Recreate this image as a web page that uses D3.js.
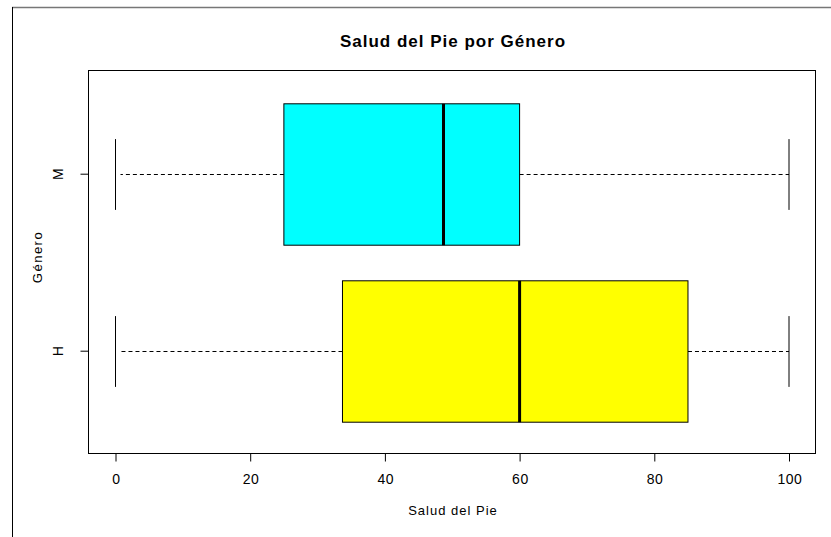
<!DOCTYPE html>
<html><head><meta charset="utf-8">
<script src="https://cdn.jsdelivr.net/npm/d3@7"></script>
<style>body{margin:0;background:#fff}svg{display:block}text{font-family:"Liberation Sans",Arial,sans-serif}</style>
</head><body>
<script>
const categories = ["H", "M"];
const colors = ["#ffff00", "#00ffff"];
const mins = [0, 0];
const q1s = [33.7, 25];
const medians = [60, 48.7];
const q3s = [85, 60];
const maxs = [100, 100];
const xTicks = [0, 20, 40, 60, 80, 100];

const W = 831, H = 537;
const svg = d3.select("body").append("svg").attr("width", W).attr("height", H);
const L = 88, R = 815, T = 70, B = 453;

// outer frame lines (top and left)
svg.append("line").attr("x1", 12).attr("x2", 831).attr("y1", 7.5).attr("y2", 7.5).attr("stroke", "#777").attr("stroke-width", 1.5);
svg.append("line").attr("x1", 12.5).attr("x2", 12.5).attr("y1", 7).attr("y2", 537).attr("stroke", "#000").attr("stroke-width", 1);

const x = d3.scaleLinear().domain([0, 100]).range([115.5, 789]);
const y = d3.scalePoint().domain(categories).range([350.7, 173.7]);
const halfBox = 70.7, halfStaple = 35.4;

const data = categories.map((c, i) => ({c, col: colors[i], min: mins[i], q1: q1s[i], med: medians[i], q3: q3s[i], max: maxs[i]}));

const g = svg.append("g");
data.forEach(d => {
  const cy = Math.round(y(d.c)) + 0.5;
  // whiskers dashed, drawn from box outward
  g.append("line").attr("x1", x(d.q1)).attr("x2", x(d.min) + 5).attr("y1", cy).attr("y2", cy)
    .attr("stroke", "#000").attr("stroke-dasharray", "4,3");
  g.append("line").attr("x1", x(d.q3)).attr("x2", x(d.max)).attr("y1", cy).attr("y2", cy)
    .attr("stroke", "#000").attr("stroke-dasharray", "4,3");
  // staples
  [d.min, d.max].forEach(v => {
    g.append("line").attr("x1", x(v)).attr("x2", x(v)).attr("y1", cy - halfStaple).attr("y2", cy + halfStaple)
      .attr("stroke", "#000");
  });
  // box
  g.append("rect").attr("x", x(d.q1)).attr("y", cy - halfBox).attr("width", x(d.q3) - x(d.q1)).attr("height", 2 * halfBox)
    .attr("fill", d.col).attr("stroke", "#000").attr("stroke-width", 1);
  // median
  g.append("line").attr("x1", x(d.med)).attr("x2", x(d.med)).attr("y1", cy - halfBox).attr("y2", cy + halfBox)
    .attr("stroke", "#000").attr("stroke-width", 3);
});

// plot frame
svg.append("rect").attr("x", L + 0.5).attr("y", T + 0.5).attr("width", R - L).attr("height", B - T)
  .attr("fill", "none").attr("stroke", "#000");

// x axis
const xa = svg.append("g").attr("transform", `translate(0,${B + 0.5})`)
  .call(d3.axisBottom(x).tickValues(xTicks).tickSize(8).tickPadding(0).tickFormat(d3.format("d")));
xa.select(".domain").remove();
xa.selectAll(".tick text").attr("font-size", 14).attr("fill", "#000").attr("y", 30).attr("dy", 0)
  .attr("letter-spacing", 0.5).attr("dx", 0.3)
  .style("font-family", "Liberation Sans, Arial, sans-serif");

// y axis
const ya = svg.append("g").attr("transform", `translate(${L + 0.5},0)`)
  .call(d3.axisLeft(y).tickSize(8).tickPadding(0).tickFormat(d => d));
ya.select(".domain").remove();
ya.selectAll(".tick text").attr("font-size", 14).attr("fill", "#000")
  .attr("text-anchor", "middle").attr("transform", "translate(-26,0) rotate(-90)").attr("x", 0).attr("dy", 0)
  .style("font-family", "Liberation Sans, Arial, sans-serif");

// title
svg.append("text").attr("x", 453).attr("y", 47).attr("text-anchor", "middle")
  .attr("font-size", 17).attr("font-weight", "bold").attr("letter-spacing", 1).text("Salud del Pie por Género");
// x label
svg.append("text").attr("x", 453).attr("y", 515).attr("text-anchor", "middle")
  .attr("font-size", 13).attr("letter-spacing", 1).text("Salud del Pie");
// y label
svg.append("text").attr("transform", "translate(41.5,257) rotate(-90)").attr("text-anchor", "middle")
  .attr("font-size", 13).attr("letter-spacing", 1.5).text("Género");
</script>
</body></html>
